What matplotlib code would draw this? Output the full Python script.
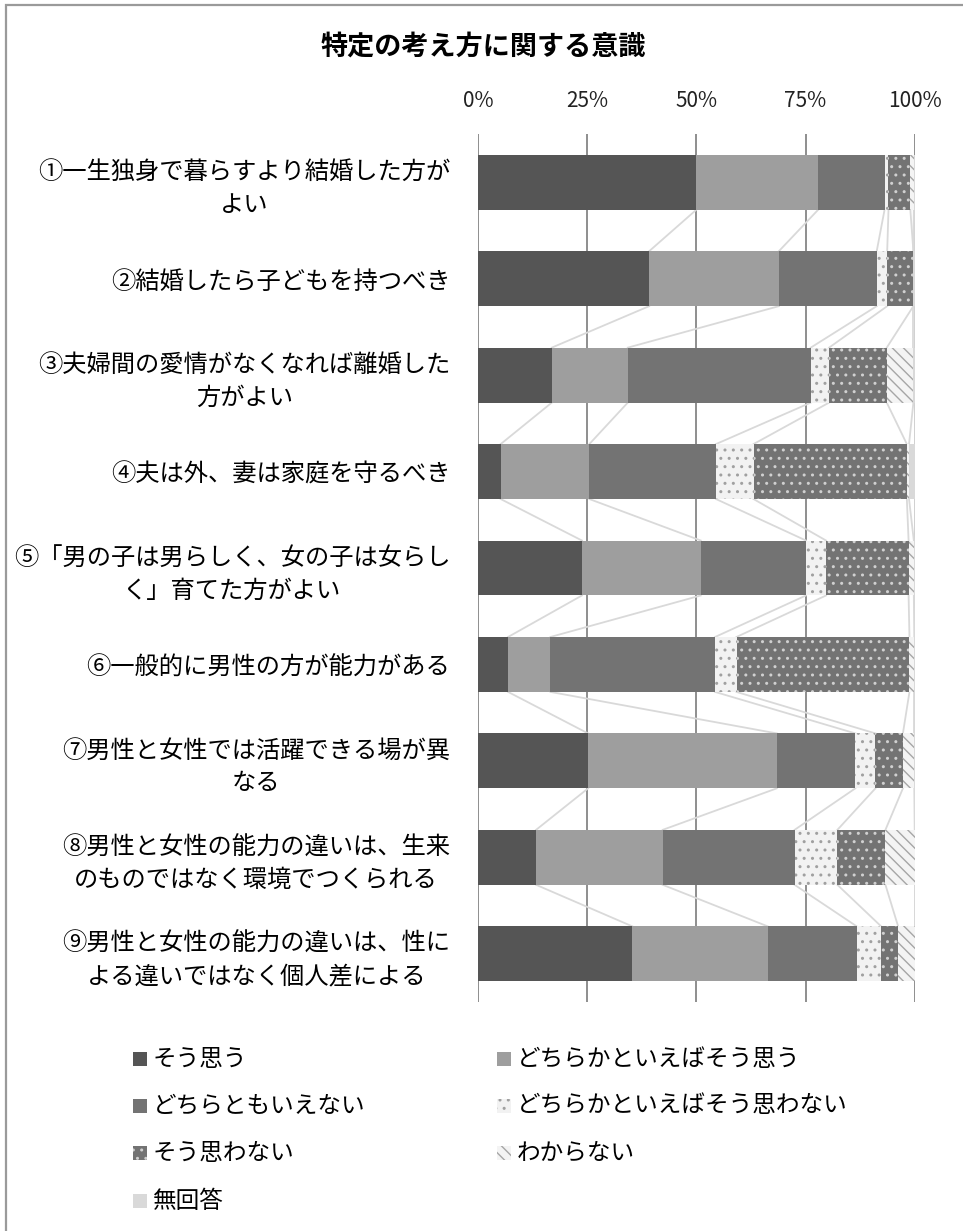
import matplotlib
matplotlib.use('Agg')
import matplotlib.pyplot as plt
from matplotlib.patches import Rectangle
import numpy as np

plt.rcParams['font.family'] = ['Noto Sans CJK JP', 'DejaVu Sans']

title = '特定の考え方に関する意識'

items = [
    '①一生独身で暮らすより結婚した方が\nよい',
    '②結婚したら子どもを持つべき',
    '③夫婦間の愛情がなくなれば離婚した\n方がよい',
    '④夫は外、妻は家庭を守るべき',
    '⑤「男の子は男らしく、女の子は女らし\nく」育てた方がよい',
    '⑥一般的に男性の方が能力がある',
    '⑦男性と女性では活躍できる場が異\nなる',
    '⑧男性と女性の能力の違いは、生来\nのものではなく環境でつくられる',
    '⑨男性と女性の能力の違いは、性に\nよる違いではなく個人差による',
]

answers = ['そう思う', 'どちらかといえばそう思う', 'どちらともいえない',
           'どちらかといえばそう思わない', 'そう思わない', 'わからない', '無回答']

# percentages per item, in answer order
so_omou      = [50.0, 39.2, 16.9,  5.2, 23.8,  6.9, 25.2, 13.3, 35.3]
dochira_so   = [27.9, 29.7, 17.4, 20.3, 27.2,  9.7, 43.2, 29.0, 31.0]
dochiramo    = [15.2, 22.4, 41.9, 29.0, 24.1, 37.7, 18.0, 30.2, 20.4]
dochira_nai  = [ 0.9,  2.4,  4.2,  8.6,  4.6,  4.9,  4.6,  9.8,  5.6]
so_omowanai  = [ 5.0,  6.0, 13.2, 35.1, 18.9, 39.6,  6.3, 11.0,  3.9]
wakaranai    = [ 0.8,  0.0,  6.1,  0.5,  1.2,  1.1,  2.6,  6.7,  3.8]
mukaito      = [ 0.2,  0.3,  0.3,  1.3,  0.2,  0.1,  0.1,  0.0,  0.0]

series = [so_omou, dochira_so, dochiramo, dochira_nai, so_omowanai, wakaranai, mukaito]

# face, hatch colour, hatch
styles = [
    ('#555555', '#555555', None),
    ('#9e9e9e', '#9e9e9e', None),
    ('#737373', '#737373', None),
    ('#f2f2f2', '#a0a0a0', '..'),
    ('#737373', '#d0d0d0', '..'),
    ('#f4f4f4', '#a6a6a6', '\\\\\\'),
    ('#d9d9d9', '#d9d9d9', None),
]

W, H = 963, 1231
fig = plt.figure(figsize=(W / 100, H / 100), dpi=100)
ax_l, ax_r, ax_t, ax_b = 478, 914.7, 134, 1002
ax = fig.add_axes([ax_l / W, 1 - ax_b / H, (ax_r - ax_l) / W, (ax_b - ax_t) / H])

y = np.arange(len(items))
bar_h = 0.57
data = np.array(series)
cum = np.vstack([np.zeros(len(items)), np.cumsum(data, axis=0)])

for k, vals in enumerate(series):
    face, hc, hatch = styles[k]
    ax.barh(y, vals, left=cum[k], height=bar_h, color=face, edgecolor=hc,
            hatch=hatch, linewidth=0, zorder=3)

# series lines between bars
for i in range(len(items) - 1):
    for k in range(1, len(series) + 1):
        ax.plot([cum[k][i], cum[k][i + 1]], [i + bar_h / 2, i + 1 - bar_h / 2],
                color='#d9d9d9', lw=1.3, zorder=2)

ax.set_xlim(0, 100)
ax.set_ylim(len(items) - 0.5, -0.5)
ax.set_xticks([0, 25, 50, 75, 100])
ax.set_xticklabels(['0%', '25%', '50%', '75%', '100%'])
ax.xaxis.tick_top()
ax.tick_params(axis='x', length=0, pad=16, labelsize=15, colors='#222222')
ax.set_yticks(y)
ax.set_yticklabels(items)
ax.tick_params(axis='y', length=0, pad=20, labelsize=17.5)
for t in ax.get_yticklabels():
    t.set_multialignment('center')
    t.set_linespacing(1.33)
ax.grid(axis='x', color='#868686', lw=1.3)
ax.set_axisbelow(True)
for s in ax.spines.values():
    s.set_visible(False)

fig.text(483 / W, 1 - 47 / H, title, ha='center', va='center',
         fontsize=19.5, fontweight='bold')

# legend, laid out in rows of two
col_x = [133, 497]
row_y = [1059, 1106, 1153, 1201]
for k, name in enumerate(answers):
    r, c = divmod(k, 2)
    face, hc, hatch = styles[k]
    x0, yc = col_x[c], row_y[r]
    fig.patches.append(Rectangle((x0 / W, 1 - (yc + 7) / H), 14 / W, 14 / H,
                                 transform=fig.transFigure, facecolor=face,
                                 edgecolor=hc, hatch=hatch, linewidth=0))
    fig.text((x0 + 20) / W, 1 - yc / H, name, ha='left', va='center', fontsize=17)

# outer frame
fig.patches.append(Rectangle((6 / W, -0.1), 1.2, 1.1 - 5 / H, transform=fig.transFigure,
                             fill=False, edgecolor='#9a9a9a', linewidth=1.6))

fig.savefig('out.png', dpi=100)
